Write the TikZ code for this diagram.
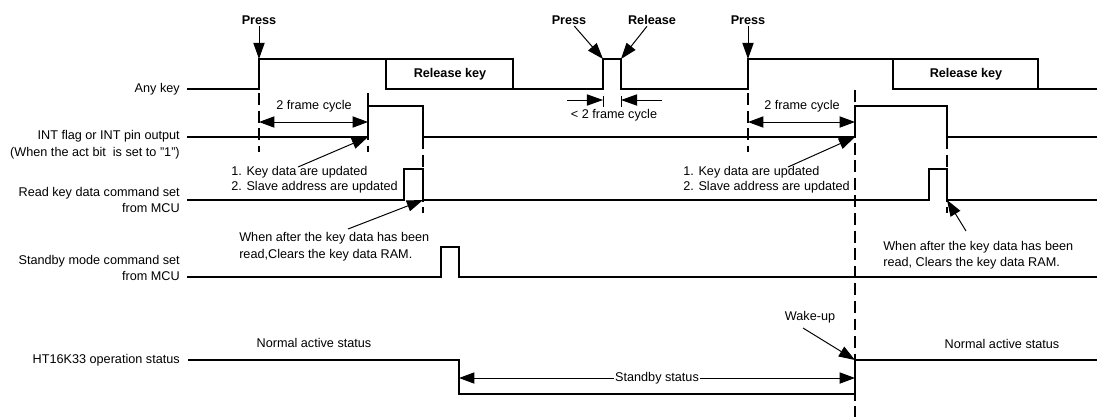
\documentclass[tikz,border=0pt]{standalone}
\usepackage{fontspec}
\setmainfont{Liberation Sans}
\usetikzlibrary{arrows.meta,positioning,calc}

\begin{document}
\begin{tikzpicture}[x=0.025cm, y=-0.025cm,
        font=\fontsize{9}{12}\selectfont,
        wave/.style={line width=0.85pt},
        guide/.style={line width=0.75pt, dash pattern=on 8.5pt off 4pt},
        pointer/.style={line width=0.7pt, -{Triangle[length=11.5pt,width=8pt]}},
        dimarrow/.style={line width=0.7pt, {Triangle[length=11pt,width=8pt]}-{Triangle[length=11pt,width=8pt]}},
        signame/.style={anchor=east, align=right, inner sep=0pt},
        note/.style={anchor=west, align=left, inner sep=0pt},
        evtlabel/.style={font=\fontsize{9}{12}\selectfont\bfseries, inner sep=1pt}]
        \useasboundingbox (0,0) rectangle (1099,417);

        % Any key
        \node[signame] (anykey) at (180,89) {Any key};
        \draw[wave] (187,89) -- (259,89) -- (259,59) -- (513,59) -- (513,89);
        \draw[wave] (386,59) -- (386,89) -- (603,89) -- (603,59) -- (621,59) -- (621,89) -- (748,89) -- (748,59) -- (1038,59) -- (1038,89);
        \draw[wave] (893,59) -- (893,89) -- (1097,89);
        \node[evtlabel] (relkey1) at (450,74) {Release key};
        \node[evtlabel] (relkey2) at (966,74) {Release key};

        \coordinate (rise1) at (259,59);
        \coordinate (rise2) at (603,59);
        \coordinate (fall2) at (621,59);
        \coordinate (rise3) at (748,59);
        \node[evtlabel] (press1) at (259,20) {Press};
        \node[evtlabel] (press2) at (569,20) {Press};
        \node[evtlabel] (release) at (652,20) {Release};
        \node[evtlabel] (press3) at (748,20) {Press};
        \draw[pointer] (press1) -- (rise1);
        \draw[pointer] (press2) -- (rise2);
        \draw[pointer] (release) -- (fall2);
        \draw[pointer] (press3) -- (rise3);

        % short pulse width
        \draw[line width=0.7pt] (603,96) -- (603,107) (621,96) -- (621,107);
        \coordinate (shortL) at (567,100);
        \coordinate (shortR) at (662,100);
        \draw[pointer] (shortL) -- (603,100);
        \draw[pointer] (shortR) -- (621,100);
        \node (shortlbl) at (614,115) {< 2 frame cycle};

        % INT flag
        \node[signame] (intflag) at (180,145) {INT flag or INT pin output\\(When the act bit\ \ is set to "1")};
        \draw[wave] (187,137) -- (368,137) -- (368,106) -- (423,106) -- (423,137) -- (855,137) -- (855,106) -- (947,106) -- (947,137) -- (1097,137);

        \draw[guide] (259,93) -- (259,152);
        \draw[guide] (368,93) -- (368,152);
        \draw[guide] (423,137) -- (423,213);
        \draw[guide] (748,93) -- (748,152);
        \draw[guide] (855,90) -- (855,417);
        \draw[guide] (947,137) -- (947,213);

        \coordinate (cyc1L) at (259,122);
        \coordinate (cyc1R) at (368,122);
        \coordinate (cyc2L) at (748,122);
        \coordinate (cyc2R) at (855,122);
        \draw[dimarrow] (cyc1L) -- (cyc1R);
        \draw[dimarrow] (cyc2L) -- (cyc2R);
        \node (cyc1lbl) at (314,106) {2 frame cycle};
        \node (cyc2lbl) at (802,106) {2 frame cycle};

        \node[note, font=\fontsize{9}{10.7}\selectfont] (upd1) at (231,180) {1. Key data are updated\\2. Slave address are updated};
        \node[note, font=\fontsize{9}{10.7}\selectfont] (upd2) at (683,180) {1. Key data are updated\\2. Slave address are updated};
        \coordinate (upd1tail) at (298,167);
        \coordinate (upd2tail) at (788,167);
        \draw[pointer] (upd1tail) -- (368,137);
        \draw[pointer] (upd2tail) -- (855,137);

        % Read key data command
        \node[signame] (readkey) at (180,200) {Read key data command set\\from MCU};
        \draw[wave] (187,200) -- (404,200) -- (404,169) -- (423,169) -- (423,200) -- (929,200) -- (929,169) -- (947,169) -- (947,200) -- (1097,200);

        \node[note, font=\fontsize{9}{12}\selectfont] (clr1) at (239,247) {When after the key data has been\\read,Clears the key data RAM.};
        \node[note, font=\fontsize{9}{11}\selectfont] (clr2) at (883,255) {When after the key data has been\\read, Clears the key data RAM.};
        \coordinate (clr1tail) at (348,229);
        \coordinate (clr2tail) at (966,231);
        \draw[pointer] (clr1tail) -- (423,200);
        \draw[pointer] (clr2tail) -- (947,200);

        % Standby mode command
        \node[signame] (stbycmd) at (180,268) {Standby mode command set\\from MCU};
        \draw[wave] (187,277) -- (441,277) -- (441,247) -- (459,247) -- (459,277) -- (1097,277);

        % HT16K33 status
        \node[signame] (opstat) at (180,360) {HT16K33 operation status};
        \draw[wave] (188,360) -- (459,360) -- (459,394) -- (855,394) -- (855,360) -- (1097,360);
        \node (normal1) at (314,343) {Normal active status};
        \node (normal2) at (1002,344) {Normal active status};
        \coordinate (sleep) at (459,378);
        \coordinate (wakept) at (855,378);
        \draw[dimarrow] (sleep) -- node[fill=white, inner sep=0.5pt] (stbylbl) {Standby status} (wakept);

        \node (wake) at (810,317) {Wake-up};
        \coordinate (waketail) at (803,328);
        \draw[pointer] (waketail) -- (855,360);
    \end{tikzpicture}
\end{document}
